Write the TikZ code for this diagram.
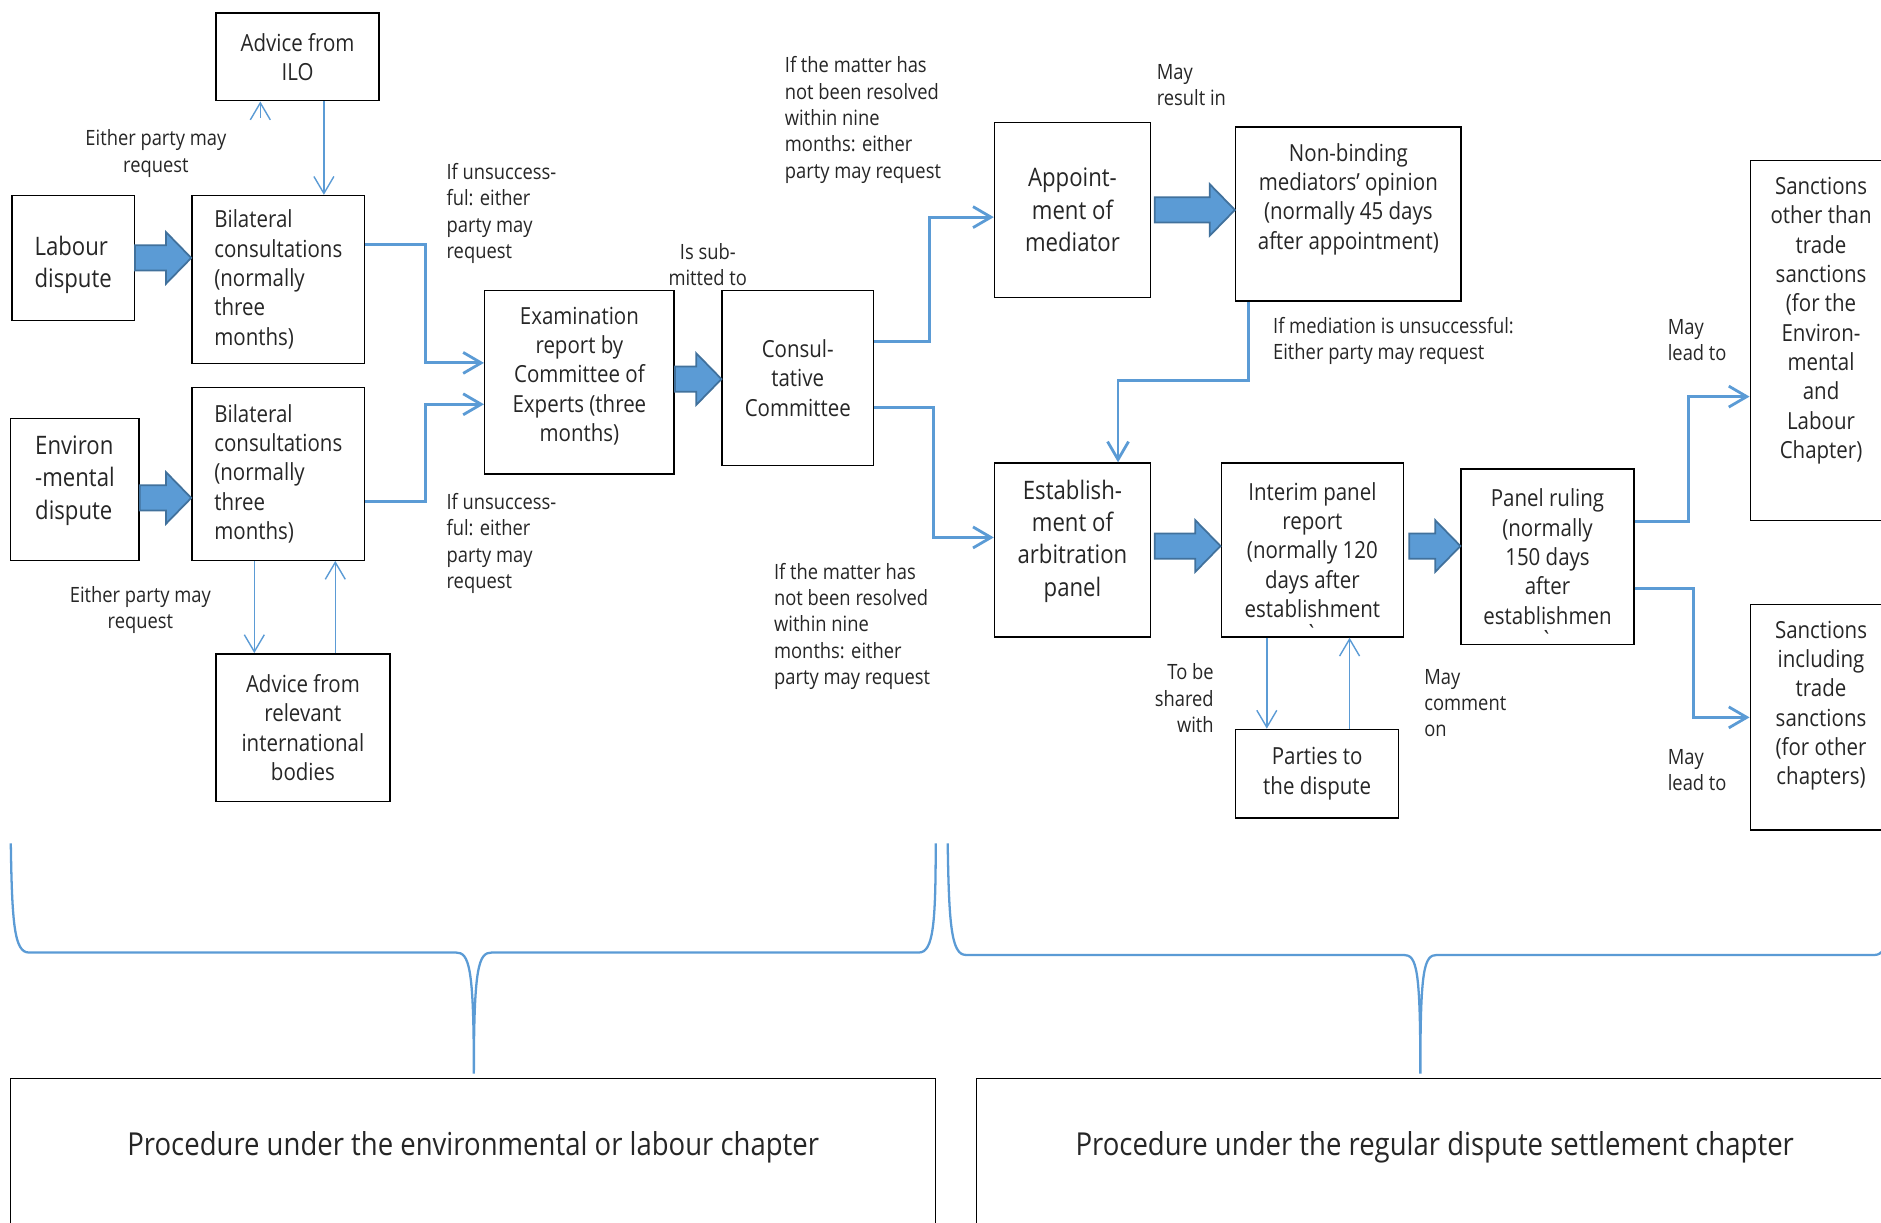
\documentclass[tikz,border=0pt]{standalone}
\usepackage{fontspec}
\setmainfont{Open Sans}[FakeStretch=0.87]
\usetikzlibrary{arrows.meta,calc}

\definecolor{flowblue}{HTML}{5B9BD5}
\definecolor{fatedge}{HTML}{41719C}
\definecolor{ink}{HTML}{262626}

\newcommand{\pxu}{0.024cm}
% fat block arrow, level with its start point
\newcommand{\fatarrow}[2]{%
  \draw[fat] let \p1=(#1), \p2=(#2) in
    (\x1,\y1+10.5*\pxu) -- (\x2-21*\pxu,\y1+10.5*\pxu) -- (\x2-21*\pxu,\y1+21.5*\pxu)
    -- (\x2,\y1) -- (\x2-21*\pxu,\y1-21.5*\pxu) -- (\x2-21*\pxu,\y1-10.5*\pxu)
    -- (\x1,\y1-10.5*\pxu) -- cycle;}

\tikzset{
  box/.style={draw=black,line width=0.8pt,align=center,text=ink,
    font=\fontsize{13.4}{16.7}\selectfont},
  bigbox/.style={box,font=\fontsize{14.5}{18.4}\selectfont},
  footbox/.style={box,font=\fontsize{18}{22.5}\selectfont},
  dims/.style 2 args={minimum width=#1*\pxu,minimum height=#2*\pxu},
  note/.style={inner sep=0pt,text=ink,font=\fontsize{12}{15}\selectfont},
  flow/.style={draw=flowblue,line width=1.6pt,-{Straight Barb[length=0.36cm,width=0.42cm]}},
  advice/.style={draw=flowblue,line width=0.8pt,-{Straight Barb[length=0.34cm,width=0.4cm]}},
  elbow/.style={to path={-- ++(#1,0) |- (\tikztotarget)}},
  drop/.style={to path={-- ++(0,#1) -| (\tikztotarget)}},
  fat/.style={fill=flowblue,draw=fatedge,line width=1pt},
  brace/.style={draw=flowblue,line width=1.3pt}
}

\begin{document}
\begin{tikzpicture}[x=\pxu,y=-\pxu]
\useasboundingbox (0,0) rectangle (1568,1019);
\clip (0,0) rectangle (1568,1019);

\begin{scope}[every node/.style={box}]
  \node[dims={136}{73}] (ilo) at (248,47.5) {Advice from\\ILO};
  \node[bigbox,align=left,dims={102}{104}] (labour) at (61,215) {\mbox{}\\[0.7pt]Labour\\dispute};
  \node[align=left,dims={144}{140}] (bilat1) at (232,233) {Bilateral\\consultations\\(normally\\three\\months)};
  \node[bigbox,align=left,dims={107}{118}] (env) at (62.5,408) {Environ\\-mental\\dispute\\[-4.7pt]\mbox{}};
  \node[align=left,dims={144}{144}] (bilat2) at (232,395) {Bilateral\\consultations\\(normally\\three\\months)};
  \node[dims={145}{123}] (rel) at (252.5,606.5) {Advice from\\relevant\\international\\bodies};
  \node[dims={158}{153}] (exam) at (483,318.5) {Examination\\report by\\Committee of\\Experts (three\\months)\\[-7.8pt]\mbox{}};
  \node[dims={126}{146}] (cons) at (665,315) {Consul-\\tative\\Committee};
  \node[bigbox,dims={130}{146}] (app) at (894,175) {Appoint-\\ment of\\mediator};
  \node[dims={188}{145}] (nb) at (1124,178.5) {Non-binding\\mediators’ opinion\\(normally 45 days\\after appointment)\\[3.8pt]\mbox{}};
  \node[bigbox,dims={130}{145}] (est) at (894,458.5) {Establish-\\ment of\\arbitration\\panel\\[-4.7pt]\mbox{}};
  \node[dims={152}{145}] (int) at (1094,458.5) {Interim panel\\report\\(normally 120\\days after\\establishment};
  \node[dims={144}{146}] (rul) at (1290,464) {Panel ruling\\(normally\\150 days\\after\\establishmen};
  \node[dims={136}{74}] (par) at (1098,645) {Parties to\\the dispute};
  \node[dims={118}{300}] (san1) at (1518,284) {Sanctions\\other than\\trade\\sanctions\\(for the\\Environ-\\mental\\and\\Labour\\Chapter)\\[9.3pt]\mbox{}};
  \node[dims={118}{188}] (san2) at (1518,598) {Sanctions\\including\\trade\\sanctions\\(for other\\chapters)\\\mbox{}};
  \node[footbox,dims={771}{141}] (bot1) at (394.5,969.5) {Procedure under the environmental or labour chapter\\\mbox{}};
  \node[footbox,dims={764}{141}] (bot2) at (1196,969.5) {Procedure under the regular dispute settlement chapter\\\mbox{}};
\end{scope}

\begin{scope}[every node/.style={note}]
  \node[align=center] (req-ilo) at (130,128) {Either party may\\request};
  \node[align=left,anchor=west] (fail-up) at (372,178) {If unsuccess-\\ful: either\\party may\\request};
  \node[align=center] (submit) at (590,220.5) {Is sub-\\mitted to};
  \node[align=left,anchor=west] (nine-up) at (654,100) {If the matter has\\not been resolved\\within nine\\months: either\\party may request};
  \node[align=left,anchor=west] (result) at (964,71) {May\\result in};
  \node[align=left,anchor=west] (med-fail) at (1061,284) {If mediation is unsuccessful:\\Either party may request};
  \node[align=left,anchor=west] (lead-up) at (1390,283.5) {May\\lead to};
  \node[align=left,anchor=west] (fail-down) at (372,453) {If unsuccess-\\ful: either\\party may\\request};
  \node[align=center] (req-rel) at (117,508.5) {Either party may\\request};
  \node[align=left,anchor=west] (nine-down) at (645,522) {If the matter has\\not been resolved\\within nine\\months: either\\party may request};
  \node[align=right,anchor=east] (shared) at (1012,582) {To be\\shared\\with};
  \node[align=left,anchor=west] (comment) at (1187,586) {May\\comment\\on};
  \node[align=left,anchor=west] (lead-down) at (1390,642) {May\\lead to};
  \node[anchor=base,font=\fontsize{13.4}{16.7}\selectfont] (int-tick) at ([yshift=-0.1cm]int.south) {\textasciigrave};
  \node[anchor=base,font=\fontsize{13.4}{16.7}\selectfont] (rul-tick) at ([yshift=-0.07cm]rul.south) {\textasciigrave};
\end{scope}

% block arrows
\fatarrow{labour.east}{bilat1.west}
\fatarrow{[yshift=-0.17cm]env.east}{bilat2.west}
\fatarrow{[yshift=0.06cm]exam.east}{cons.west}
\fatarrow{[xshift=0.07cm]app.east}{nb.west}
\fatarrow{[xshift=0.07cm,yshift=0.08cm]est.east}{int.west}
\fatarrow{[xshift=0.1cm,yshift=0.08cm]int.east}{rul.west}

\begin{scope}[every edge/.style={flow}]
  \path (bilat1.east |- 0,204) edge[elbow=50] (exam.west |- 0,302.5);
  \path (bilat2.east |- 0,418) edge[elbow=50] (exam.west |- 0,337);
  \path (cons.east |- 0,285) edge[elbow=46] (app.west |- 0,181);
  \path (cons.east |- 0,340) edge[elbow=49.5] (est.west |- 0,448);
  \path (nb.south -| 1041,0) edge[drop=65.5] (est.north -| 932,0);
  \path (rul.east |- 0,435) edge[elbow=45] (san1.west |- 0,330.6);
  \path (rul.east |- 0,490.6) edge[elbow=49] (san2.west |- 0,598);
\end{scope}

\begin{scope}[every edge/.style={advice}]
  \coordinate (ilo-req) at (217,98);
  \path (ilo-req) edge (ilo.south -| ilo-req);
  \path (ilo.south -| 270,0) edge (bilat1.north -| 270,0);
  \path (bilat2.south -| 212,0) edge (rel.north -| 212,0);
  \path (rel.north -| 279.5,0) edge (bilat2.south -| 279.5,0);
  \path (int.south -| 1056,0) edge (par.north -| 1056,0);
  \path (par.north -| 1125,0) edge (int.south -| 1125,0);
\end{scope}

% braces over the two procedures
\draw[brace] (9,703) .. controls (10,770) and (12,794) .. (24,794) -- (380,794)
  .. controls (391,794) and (395,805) .. (395,895)
  .. controls (395,805) and (399,794) .. (410,794) -- (766,794)
  .. controls (778,794) and (780,770) .. (780,703);
\draw[brace] (790,703) .. controls (791,770) and (793,796) .. (805,796) -- (1170,796)
  .. controls (1181,796) and (1184,807) .. (1184,895)
  .. controls (1184,807) and (1187,796) .. (1198,796) -- (1563,796)
  .. controls (1575,796) and (1577,770) .. (1578,703);
\end{tikzpicture}
\end{document}
